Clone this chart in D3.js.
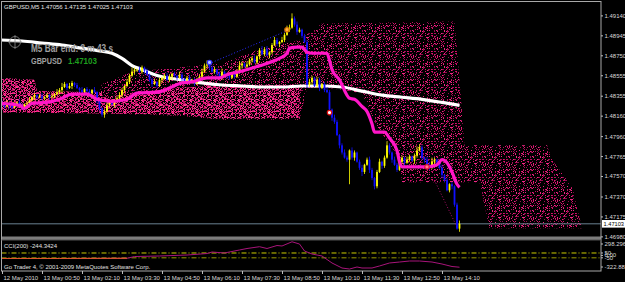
<!DOCTYPE html>
<html>
<head>
<meta charset="utf-8">
<script src="https://cdn.jsdelivr.net/npm/d3@7"></script>
<style>
html, body { margin: 0; padding: 0; background: #000; }
svg { display: block; font-family: "Liberation Sans", Arial, sans-serif; }
</style>
</head>
<body>
<svg id="chart" width="625" height="282"></svg>
<script>
// ---- data (GBPUSD M5) ----
const priceTicks = [1.49140, 1.48945, 1.48750, 1.48555, 1.48355, 1.48160, 1.47960, 1.47765, 1.47570, 1.47370, 1.47175, 1.46980];
const timeTickIdx = [0, 16, 32, 48, 64, 80, 96, 112, 128, 144, 160, 176];
const timeLabels = ["12 May 2010", "13 May 00:50", "13 May 02:10", "13 May 03:30", "13 May 04:50", "13 May 06:10",
  "13 May 07:30", "13 May 08:50", "13 May 10:10", "13 May 11:30", "13 May 12:50", "13 May 14:10"];

const firstOpen = 1.4829;
const closes = [
  1.4827, 1.4825, 1.4828, 1.4826, 1.4824, 1.4827, 1.4829, 1.4826, 1.4825, 1.4827,
  1.4828, 1.4831, 1.4834, 1.4836,
  1.4834, 1.4835, 1.4833, 1.4834, 1.4836, 1.4834, 1.4835, 1.4837, 1.4839,
  1.4841, 1.4844, 1.4847, 1.4843, 1.4845, 1.4848,
  1.4846, 1.4843, 1.4841, 1.4839, 1.4842, 1.4840, 1.4838, 1.4841, 1.4839,
  1.4831, 1.4823, 1.4817, 1.4820,
  1.4826, 1.4829, 1.4827, 1.4831, 1.4833,
  1.4836, 1.4841, 1.4845, 1.4849, 1.4855, 1.4859, 1.4861,
  1.4861, 1.4859, 1.4863, 1.4860, 1.4856,
  1.4851, 1.4847, 1.4849, 1.4845, 1.4851,
  1.4853, 1.4855, 1.4851, 1.4854, 1.4857, 1.4855, 1.4853, 1.4856,
  1.4852, 1.4850, 1.4853, 1.4849, 1.4851, 1.4848, 1.4852, 1.4854,
  1.4859, 1.4865, 1.4866, 1.4863, 1.4859,
  1.4861, 1.4857, 1.4853, 1.4859, 1.4856,
  1.4855, 1.4853, 1.4857, 1.4854, 1.4859,
  1.4865, 1.4867, 1.4864, 1.4866,
  1.4870, 1.4872, 1.4868, 1.4874,
  1.4880, 1.4876, 1.4881, 1.4875, 1.4878,
  1.4885, 1.4890, 1.4886, 1.4888,
  1.4890, 1.4895, 1.4900, 1.4902,
  1.4911, 1.4905, 1.4898,
  1.4900, 1.4894, 1.4888,
  1.4846,
  1.4849, 1.4853, 1.4845, 1.4851, 1.4843,
  1.4847, 1.4841, 1.4839,
  1.4822, 1.4814, 1.4810,
  1.4797, 1.4787, 1.4780, 1.4775,
  1.4773, 1.4782, 1.4775, 1.4780,
  1.4771, 1.4765, 1.4761, 1.4768,
  1.4773, 1.4763, 1.4755, 1.4747,
  1.4761, 1.4771, 1.4767, 1.4775,
  1.4787, 1.4780, 1.4773, 1.4768,
  1.4763, 1.4771, 1.4775, 1.4770,
  1.4773, 1.4776, 1.4772, 1.4777,
  1.4782, 1.4785, 1.4775, 1.4773,
  1.4768, 1.4765, 1.4771, 1.4773,
  1.4770, 1.4765, 1.4758, 1.4753,
  1.4743, 1.4749, 1.4747,
  1.4729, 1.47056, 1.47103
];
// wick lengths in pips above / below the body
const wickUp = [
  2, 1, 3, 1, 2, 2, 1, 3, 2, 1, 2, 3, 1, 2, 1, 2, 3, 1, 2, 1,
  2, 1, 3, 2, 4, 2, 1, 3, 2, 1, 2, 1, 3, 1, 2, 2, 1, 3, 1, 2,
  1, 2, 3, 1, 2, 1, 2, 3, 2, 1, 3, 2, 4, 2, 1, 3, 2, 1, 2, 1,
  2, 3, 1, 2, 1, 2, 3, 2, 1, 2, 1, 3, 2, 1, 2, 3, 1, 2, 1, 2,
  3, 2, 4, 1, 2, 3, 1, 2, 3, 1, 2, 1, 2, 3, 2, 4, 2, 1, 3, 2,
  2, 3, 1, 2, 4, 2, 3, 1, 2, 3, 2, 1, 3, 2, 4, 3, 5, 2, 3, 2,
  1, 2, 2, 3, 2, 1, 3, 2, 1, 2, 3, 2, 1, 3, 2, 1, 2, 3, 2, 1,
  3, 2, 1, 2, 3, 1, 2, 3, 2, 1, 2, 3, 1, 2, 4, 2, 1, 3, 2, 1,
  2, 1, 3, 2, 1, 2, 4, 3, 2, 1, 3, 2, 4, 2, 1, 2, 3, 1, 2, 1,
  2, 1, 2, 3.2
];
const wickDn = [
  1, 2, 1, 3, 2, 1, 2, 1, 3, 2, 1, 2, 1, 3, 2, 1, 2, 2, 1, 3,
  1, 2, 1, 2, 3, 1, 2, 1, 3, 2, 1, 2, 1, 2, 3, 1, 2, 1, 3, 2,
  2, 3, 1, 2, 1, 3, 2, 1, 2, 3, 1, 2, 1, 3, 2, 1, 2, 3, 1, 2,
  3, 1, 2, 1, 3, 2, 1, 2, 3, 1, 2, 1, 2, 3, 1, 2, 1, 3, 2, 1,
  2, 1, 3, 2, 1, 2, 3, 1, 2, 1, 3, 2, 1, 2, 1, 2, 3, 1, 2, 1,
  2, 1, 2, 3, 1, 2, 1, 3, 2, 1, 2, 3, 1, 2, 1, 2, 1, 2, 3, 1,
  2, 1, 3, 2, 3, 1, 2, 3, 1, 2, 1, 2, 3, 2, 1, 3, 2, 1, 2, 24,
  2, 3, 1, 2, 4, 2, 1, 3, 2, 3, 2, 1, 3, 2, 1, 2, 3, 1, 2, 1,
  2, 3, 1, 2, 1, 3, 2, 1, 2, 3, 1, 2, 1, 3, 2, 1, 3, 2, 1, 2,
  3, 2, 1, 3.1
];

// slow moving average (white) sampled at bar indices
const slowMaIdx = [-1, 8, 16, 24, 32, 40, 44, 48, 52, 56, 60, 64, 72, 80, 88, 96, 104, 112, 120, 128, 136, 144, 152, 160, 168, 176, 183];
const slowMa = [1.4890, 1.4889, 1.4887, 1.4885, 1.4882, 1.4879, 1.4877, 1.4872, 1.4865, 1.4861, 1.4857, 1.4854, 1.4851, 1.4848,
  1.4846, 1.4845, 1.4844, 1.4844, 1.4845, 1.4845, 1.4844, 1.4840, 1.4836, 1.4834, 1.4832, 1.4829, 1.4826];

// fast moving average (magenta)
const fastMaIdx = [-1, 7, 9, 12, 18, 23, 28, 34, 38, 44, 50, 54, 62, 64, 67, 72, 76, 82, 87, 90, 95, 102, 107, 111, 114, 115,
  118, 120, 122, 124, 130, 131, 132, 135, 139, 141, 144, 146, 148, 149, 153, 155, 158, 159, 160, 167, 170, 174, 176, 178,
  180, 182, 183];
const fastMa = [1.4828, 1.4826, 1.4823, 1.4828, 1.4829, 1.4832, 1.4837, 1.4837, 1.4832, 1.4830, 1.4832, 1.4838, 1.4839, 1.4840,
  1.4843, 1.4848, 1.4849, 1.4853, 1.4853, 1.4856, 1.4859, 1.4864, 1.4868, 1.4872, 1.4877, 1.4882,
  1.4883, 1.4883, 1.4878, 1.4877, 1.4877, 1.4870, 1.4861, 1.4851, 1.4833, 1.4832, 1.4825, 1.4820, 1.4808, 1.4800, 1.4800,
  1.4794, 1.4782, 1.4771, 1.4766, 1.4766, 1.4766, 1.4768, 1.4773, 1.4770,
  1.4761, 1.4749, 1.4746];

// dotted pink cloud, outline as (bar index, price) vertices
const cloudIdx = [-1, 13, 14, 39, 40, 52, 71, 88, 104, 119, 128, 181, 183, 185, 218, 220, 228, 232,
  195, 191, 160, 159, 156, 150, 144, 131, 122, 119, 88, 71, 39, -1];
const cloudPrice = [1.4853, 1.4851, 1.4840, 1.4839, 1.4847, 1.4859, 1.4863, 1.4867, 1.4882, 1.4890, 1.4906, 1.4908, 1.4851,
  1.4787, 1.4787, 1.4773, 1.4747, 1.4706,
  1.4706, 1.4751, 1.4751, 1.4773, 1.4785, 1.4805, 1.4838, 1.4843, 1.4843, 1.4812, 1.4812, 1.4816, 1.4818, 1.4819];
// denser core bands
const coreIdx = [-1, 13, 14, 40, 40, -1];
const corePrice = [1.4853, 1.4851, 1.4840, 1.4839, 1.4818, 1.4819];
const core2Idx = [40, 71, 88, 119, 119, 88, 71, 40];
const core2Price = [1.4834, 1.4843, 1.4846, 1.4846, 1.4814, 1.4813, 1.4817, 1.4818];

// trend lines
const blueLineIdx = [84, 114];
const blueLinePrice = [1.4868, 1.4899];
const pinkLineIdx = [173, 182];
const pinkLinePrice = [1.4753, 1.4707];

// arrows / markers
const markIdx = [83, 114, 131, 170];
const markPrice = [1.4868, 1.4900, 1.4819, 1.4766];

// CCI(200)
const cciIdx = [-1, 23, 50, 53, 63, 74, 82, 84, 89, 95, 98, 103, 106, 110, 112, 116, 119, 121, 124, 128, 132, 136, 139,
  142, 144, 148, 151, 155, 159, 163, 167, 172, 176, 180, 183];
const cciVal = [-64, -64, -60, -23, -12, 8, 39, 70, 50, 112, 143, 180, 143, 205, 195, 282, 236, 91, 29, -12, -157, -261, -282,
  -240, -261, -261, -219, -157, -137, -116, -116, -137, -178, -230, -244.3424];
const cciTicks = [298.296, 50, 0, -50, -322.883];
const cciTickLabels = ["298.296", "50", "0.00", "-50", "-322.883"];
const cciLevels = [50, -50];

const lastPrice = 1.47103;
const pip = 0.0001;

// ---- scales ----
const W = 625, H = 282;
const pane = { l: 1.5, r: 601, t: 2, mainB: 236.5, indT: 240, indB: 271 };
const x = d3.scaleLinear().domain([0, 240]).range([2, 602]);
const y = d3.scaleLinear().domain([1.46980, 1.49140]).range([236.4, 15.4]);
const yC = d3.scaleLinear().domain([-322.883, 298.296]).range([271, 241]);

const svg = d3.select("#chart");
svg.append("rect").attr("width", W).attr("height", H).attr("fill", "#000");

const defs = svg.append("defs");
defs.append("clipPath").attr("id", "clipMain").append("rect")
  .attr("x", pane.l).attr("y", pane.t).attr("width", pane.r - pane.l).attr("height", pane.mainB - pane.t);
defs.append("clipPath").attr("id", "clipInd").append("rect")
  .attr("x", pane.l).attr("y", pane.indT).attr("width", pane.r - pane.l).attr("height", pane.indB - pane.indT);

// stipple texture for the cloud (fixed seed so the texture is identical each run)
function stipple(id, w, h, density, colors, seed) {
  const p = defs.append("pattern").attr("id", id).attr("patternUnits", "userSpaceOnUse")
    .attr("width", w).attr("height", h);
  let s = seed;
  const next = () => (s = (s * 16807) % 2147483647) / 2147483647;
  for (let yy = 0; yy < h; yy++) {
    for (let xx = 0; xx < w; xx++) {
      if (next() < density) {
        p.append("rect").attr("x", xx).attr("y", yy).attr("width", 1).attr("height", 1)
          .attr("fill", colors[Math.floor(next() * colors.length)]);
      }
    }
  }
}
stipple("dotsSparse", 24, 18, 0.23, ["#e0126e", "#b80e60", "#f02884", "#960a50"], 12345);
stipple("dotsDense", 24, 18, 0.4, ["#ff2a88", "#e0187a", "#ff4a9a", "#c01068"], 777);

const main = svg.append("g").attr("clip-path", "url(#clipMain)");

// cloud
const poly = (idx, vals) => idx.map((d, i) => [x(d), y(vals[i])]);
main.append("path").attr("d", d3.line()(poly(cloudIdx, cloudPrice)) + "Z").attr("fill", "url(#dotsSparse)");
main.append("path").attr("d", d3.line()(poly(coreIdx, corePrice)) + "Z").attr("fill", "url(#dotsDense)");
main.append("path").attr("d", d3.line()(poly(core2Idx, core2Price)) + "Z").attr("fill", "url(#dotsDense)");

// current price line
main.append("line").attr("x1", pane.l).attr("x2", pane.r).attr("y1", y(lastPrice)).attr("y2", y(lastPrice))
  .attr("stroke", "#6a8090").attr("stroke-width", 1);

// trend lines
const lineGen = d3.line().x(d => x(d[0])).y(d => y(d[1]));
main.append("path").attr("d", lineGen(blueLineIdx.map((d, i) => [d, blueLinePrice[i]])))
  .attr("stroke", "#2a2aff").attr("stroke-width", 1).attr("stroke-dasharray", "1,2").attr("fill", "none");
main.append("path").attr("d", lineGen(pinkLineIdx.map((d, i) => [d, pinkLinePrice[i]])))
  .attr("stroke", "#b0106a").attr("stroke-width", 1).attr("stroke-dasharray", "1,2").attr("fill", "none");

// slow MA (white)
const curveGen = d3.line().x(d => x(d[0])).y(d => y(d[1])).curve(d3.curveMonotoneX);
main.append("path")
  .attr("d", curveGen(slowMaIdx.map((d, i) => [d, slowMa[i]])))
  .attr("fill", "none").attr("stroke", "#ffffff").attr("stroke-width", 3.2);

// candles
const bars = closes.map((c, i) => {
  const o = i === 0 ? firstOpen : closes[i - 1];
  return { i, o, c, h: Math.max(o, c) + wickUp[i] * pip, l: Math.min(o, c) - wickDn[i] * pip };
});
const barColor = d => d.c >= d.o ? "#ffff00" : "#1010ff";
main.selectAll(".wick").data(bars).join("line").attr("class", "wick")
  .attr("x1", d => x(d.i)).attr("x2", d => x(d.i))
  .attr("y1", d => y(d.h)).attr("y2", d => y(d.l))
  .attr("stroke", barColor).attr("stroke-width", 0.8);
main.selectAll(".body").data(bars).join("rect").attr("class", "body")
  .attr("x", d => x(d.i) - 0.9).attr("width", 1.8)
  .attr("y", d => y(Math.max(d.o, d.c)))
  .attr("height", d => Math.max(1, Math.abs(y(d.o) - y(d.c))))
  .attr("fill", barColor);

// fast MA (magenta)
main.append("path")
  .attr("d", curveGen(fastMaIdx.map((d, i) => [d, fastMa[i]])))
  .attr("fill", "none").attr("stroke", "#ff16c8").attr("stroke-width", 3.2);

// markers
const markFill = ["#b8c0ff", "#ffb040", "#ffffff", "#ff8080"];
const markStroke = ["#3030ff", "#d07000", "#e01010", "#e01040"];
main.selectAll(".mark").data(markIdx).join("circle").attr("class", "mark")
  .attr("cx", d => x(d)).attr("cy", (d, i) => y(markPrice[i])).attr("r", 2.2)
  .attr("fill", (d, i) => markFill[i]).attr("stroke", (d, i) => markStroke[i]).attr("stroke-width", 1.2);

// crosshair cursor symbol
const ch = svg.append("g").attr("stroke", "#8a8a8a").attr("fill", "none").attr("stroke-width", 0.8);
ch.append("circle").attr("cx", 15).attr("cy", 42).attr("r", 5.5);
ch.append("line").attr("x1", 8).attr("x2", 22).attr("y1", 42).attr("y2", 42);
ch.append("line").attr("x1", 15).attr("x2", 15).attr("y1", 35).attr("y2", 49);

// overlay texts
svg.append("text").attr("x", 4).attr("y", 8.5).attr("font-size", 6).attr("fill", "#e8e8e8")
  .text("GBPUSD,M5  1.47056 1.47135 1.47025 1.47103");
svg.append("text").attr("x", 31).attr("y", 52).attr("font-size", 11).attr("font-weight", "bold")
  .attr("fill", "#a0a0a0").attr("textLength", 82).attr("lengthAdjust", "spacingAndGlyphs")
  .text("M5 Bar end: 3 m 43 s");
svg.append("text").attr("x", 31).attr("y", 63.5).attr("font-size", 9).attr("font-weight", "bold")
  .attr("fill", "#a0a0a0").attr("textLength", 31).attr("lengthAdjust", "spacingAndGlyphs").text("GBPUSD");
svg.append("text").attr("x", 68).attr("y", 63.5).attr("font-size", 9).attr("font-weight", "bold")
  .attr("fill", "#1e9e1e").attr("textLength", 29).attr("lengthAdjust", "spacingAndGlyphs").text("1.47103");

// ---- indicator pane ----
svg.append("rect").attr("x", pane.l).attr("y", pane.mainB).attr("width", pane.r - pane.l).attr("height", pane.indT - pane.mainB)
  .attr("fill", "#7c7c7c");
const ind = svg.append("g").attr("clip-path", "url(#clipInd)");
ind.selectAll(".lvl").data(cciLevels).join("line").attr("class", "lvl")
  .attr("x1", pane.l).attr("x2", pane.r).attr("y1", d => yC(d)).attr("y2", d => yC(d))
  .attr("stroke", (d, i) => i === 0 ? "#cccc00" : "#9a9a00").attr("stroke-width", 1)
  .attr("stroke-dasharray", "5,2,1,2");
const cciPts = cciIdx.map((d, i) => [x(d), yC(cciVal[i])]);
ind.append("path").attr("d", d3.line()(cciPts)).attr("fill", "none").attr("stroke", "#a8147a").attr("stroke-width", 1);
ind.append("path").attr("d", d3.line()(cciPts.slice(0, 3))).attr("fill", "none").attr("stroke", "#e0582a").attr("stroke-width", 1);

svg.append("text").attr("x", 4).attr("y", 247.5).attr("font-size", 6).attr("fill", "#e0e0e0").text("CCI(200) -244.3424");
svg.append("text").attr("x", 4).attr("y", 268.5).attr("font-size", 6).attr("fill", "#e0e0e0")
  .text("Go Trader 4, \u00a9 2001-2009 MetaQuotes Software Corp.");

// frame
const frame = svg.append("g").attr("fill", "none").attr("stroke", "#a8a8a8").attr("stroke-width", 1);
frame.append("rect").attr("x", pane.l).attr("y", 1.5).attr("width", pane.r - pane.l).attr("height", pane.indB - 1.5);
frame.append("line").attr("x1", pane.l).attr("x2", pane.r).attr("y1", pane.indT).attr("y2", pane.indT).attr("stroke", "#505050");

// ---- axes ----
const styleAxis = g => {
  g.select(".domain").remove();
  g.selectAll(".tick line").attr("stroke", "#c0c0c0");
  g.selectAll(".tick text").attr("fill", "#d8d8d8").attr("font-size", 6)
    .attr("font-family", "Liberation Sans, Arial, sans-serif");
};
svg.append("g").attr("transform", `translate(${pane.r},0)`)
  .call(d3.axisRight(y).tickValues(priceTicks).tickSize(2).tickPadding(1.5).tickFormat(d3.format(".5f")))
  .call(styleAxis);

svg.append("g").attr("transform", `translate(${pane.r},0)`)
  .call(d3.axisRight(yC).tickValues(cciTicks).tickSize(2).tickPadding(1.5).tickFormat((d, i) => cciTickLabels[i]))
  .call(styleAxis)
  .call(g => g.selectAll(".tick").attr("transform", d => `translate(0,${Math.max(244, Math.min(267, yC(d)))})`));

svg.append("g").attr("transform", `translate(0,${pane.indB})`)
  .call(d3.axisBottom(x).tickValues(timeTickIdx).tickSize(3).tickPadding(2).tickFormat((d, i) => timeLabels[i]))
  .call(styleAxis)
  .call(g => g.selectAll(".tick text").attr("text-anchor", "start").attr("x", 1));

// current price tag
const tag = svg.append("g").attr("transform", `translate(${pane.r + 1},${y(lastPrice)})`);
tag.append("rect").attr("x", 0).attr("y", -3.8).attr("width", 24).attr("height", 7.6).attr("fill", "#ffffff");
tag.append("text").attr("x", 1.5).attr("y", 2.2).attr("font-size", 6).attr("fill", "#000")
  .attr("textLength", 20.5).attr("lengthAdjust", "spacingAndGlyphs").text(d3.format(".5f")(lastPrice));
</script>
</body>
</html>
